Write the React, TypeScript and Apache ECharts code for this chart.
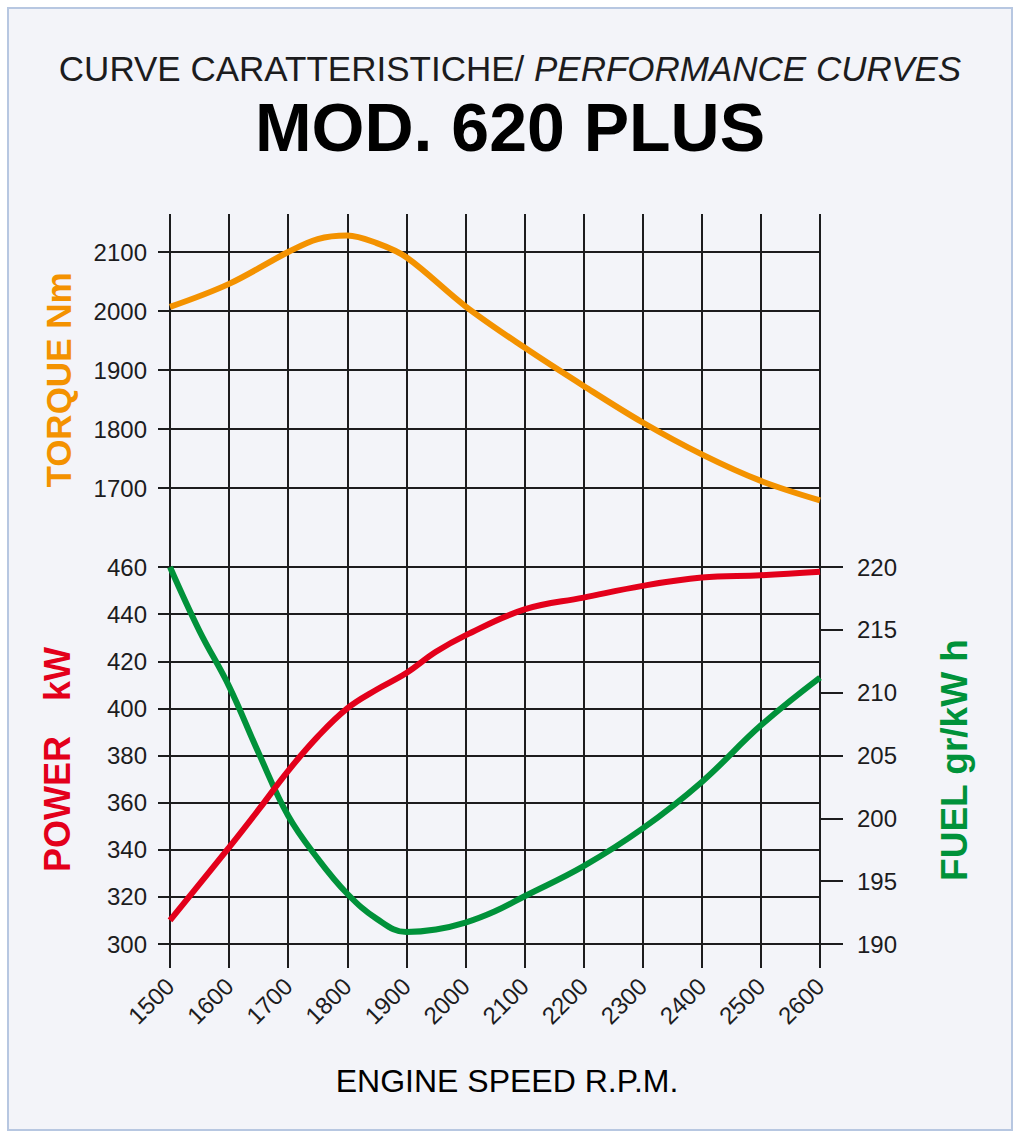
import React, { useEffect, useRef } from "react";
import * as echarts from "echarts";

// Engine speed range and tick labels
const rpmTicks = [1500, 1600, 1700, 1800, 1900, 2000, 2100, 2200, 2300, 2400, 2500, 2600];

// Torque curve (Nm)
const torqueRpm = [1500, 1600, 1700, 1750, 1800, 1850, 1900, 2000, 2100, 2200, 2300, 2400, 2500, 2600];
const torqueNm = [2007, 2046, 2100, 2122, 2128, 2115, 2091, 2008, 1938, 1873, 1811, 1757, 1712, 1679];

// Power curve (kW)
const powerRpm = [1500, 1600, 1650, 1700, 1750, 1800, 1850, 1900, 1950, 2000, 2100, 2200, 2300, 2400, 2500, 2600];
const powerKw = [310, 341, 357, 373.5, 388, 400, 408, 415, 424, 431, 442, 447, 452, 455.5, 456.5, 458];

// Specific fuel consumption (gr/kW h)
const fuelRpm = [1500, 1550, 1600, 1650, 1700, 1750, 1800, 1850, 1900, 1950, 2000, 2050, 2100, 2200, 2300, 2400, 2500, 2600];
const fuelGkwh = [220, 214.9, 210.5, 205.2, 200.2, 196.8, 194, 192, 190.95, 191.15, 191.7, 192.6, 193.8, 196.2, 199.2, 202.9, 207.4, 211.2];

const FONT = "'Liberation Sans', Arial, Helvetica, sans-serif";
const INK = "#1c1c1e";
const ORANGE = "#f39200";
const RED = "#e3001b";
const GREEN = "#00923a";

const zip = (xs: number[], ys: number[]) => xs.map((x, i) => [x, ys[i]]);
const plain = (v: number) => String(v);

export default function App() {
  const ref = useRef<HTMLDivElement>(null);

  useEffect(() => {
    if (!ref.current) return;
    const chart = echarts.init(ref.current, undefined, { renderer: "svg" });

    const gridLine = { lineStyle: { color: INK, width: 2 } };
    const xMin = rpmTicks[0];
    const xMax = rpmTicks[rpmTicks.length - 1];
    const plotLeft = 170;
    const plotWidth = 650;

    chart.setOption({
      animation: false,
      backgroundColor: "transparent",
      textStyle: { fontFamily: FONT },
      grid: [
        { left: plotLeft, top: 214, width: plotWidth, height: 730 },
        { left: plotLeft, top: 252, width: plotWidth, height: 236 },
        { left: plotLeft, top: 567, width: plotWidth, height: 377 },
      ],
      xAxis: [
        {
          gridIndex: 0,
          type: "value",
          min: xMin,
          max: xMax,
          interval: 100,
          axisLine: { show: true, lineStyle: { color: INK, width: 2 } },
          axisTick: { show: true, length: 24, lineStyle: { color: INK, width: 2 } },
          splitLine: { show: true, ...gridLine },
          axisLabel: {
            rotate: 45,
            margin: 38,
            fontSize: 24,
            color: INK,
            fontFamily: FONT,
            formatter: plain,
          },
        },
        { gridIndex: 1, type: "value", min: xMin, max: xMax, show: false },
        { gridIndex: 2, type: "value", min: xMin, max: xMax, show: false },
      ],
      yAxis: [
        { gridIndex: 0, type: "value", show: false },
        {
          gridIndex: 1,
          type: "value",
          min: 1700,
          max: 2100,
          interval: 100,
          axisLine: { show: false },
          axisTick: { show: true, length: 12, lineStyle: { color: INK, width: 2 } },
          splitLine: { show: true, ...gridLine },
          axisLabel: { margin: 23, fontSize: 24, color: INK, fontFamily: FONT, formatter: plain },
        },
        {
          gridIndex: 2,
          type: "value",
          position: "left",
          min: 300,
          max: 460,
          interval: 20,
          axisLine: { show: false },
          axisTick: { show: true, length: 12, lineStyle: { color: INK, width: 2 } },
          splitLine: { show: true, ...gridLine },
          axisLabel: { margin: 23, fontSize: 24, color: INK, fontFamily: FONT, formatter: plain },
        },
        {
          gridIndex: 2,
          type: "value",
          position: "right",
          min: 190,
          max: 220,
          interval: 5,
          axisLine: { show: false },
          axisTick: { show: true, length: 23, lineStyle: { color: INK, width: 2 } },
          splitLine: { show: false },
          axisLabel: { margin: 37, fontSize: 24, color: INK, fontFamily: FONT, formatter: plain },
        },
      ],
      series: [
        {
          name: "Torque",
          type: "line",
          xAxisIndex: 1,
          yAxisIndex: 1,
          data: zip(torqueRpm, torqueNm),
          smooth: 0.35,
          clip: false,
          symbol: "none",
          lineStyle: { color: ORANGE, width: 6 },
          z: 3,
        },
        {
          name: "Fuel",
          type: "line",
          xAxisIndex: 2,
          yAxisIndex: 3,
          data: zip(fuelRpm, fuelGkwh),
          smooth: 0.4,
          clip: false,
          symbol: "none",
          lineStyle: { color: GREEN, width: 6 },
          z: 3,
        },
        {
          name: "Power",
          type: "line",
          xAxisIndex: 2,
          yAxisIndex: 2,
          data: zip(powerRpm, powerKw),
          smooth: 0.4,
          clip: false,
          symbol: "none",
          lineStyle: { color: RED, width: 6 },
          z: 4,
        },
      ],
      graphic: [
        {
          type: "text",
          x: 510,
          y: 68,
          style: {
            text: "{n|CURVE CARATTERISTICHE/ }{i|PERFORMANCE CURVES}",
            align: "center",
            verticalAlign: "middle",
            fill: INK,
            rich: {
              n: { fontSize: 35, fontFamily: FONT, fontStyle: "normal", fill: INK, color: INK },
              i: { fontSize: 35, fontFamily: FONT, fontStyle: "italic", fill: INK, color: INK },
            },
          },
        },
        {
          type: "text",
          x: 510,
          y: 127,
          style: {
            text: "MOD. 620 PLUS",
            align: "center",
            verticalAlign: "middle",
            font: `bold 68px ${FONT}`,
            fill: "#000",
          },
        },
        {
          type: "text",
          x: 507,
          y: 1081,
          style: {
            text: "ENGINE SPEED R.P.M.",
            align: "center",
            verticalAlign: "middle",
            font: `32px ${FONT}`,
            fill: "#000",
          },
        },
        {
          type: "text",
          x: 58,
          y: 380,
          rotation: Math.PI / 2,
          style: {
            text: "TORQUE Nm",
            align: "center",
            verticalAlign: "middle",
            font: `bold 35px ${FONT}`,
            fill: ORANGE,
          },
        },
        {
          type: "text",
          x: 57,
          y: 804,
          rotation: Math.PI / 2,
          style: {
            text: "POWER",
            align: "center",
            verticalAlign: "middle",
            font: `bold 36px ${FONT}`,
            fill: RED,
          },
        },
        {
          type: "text",
          x: 57,
          y: 674,
          rotation: Math.PI / 2,
          style: {
            text: "kW",
            align: "center",
            verticalAlign: "middle",
            font: `bold 36px ${FONT}`,
            fill: RED,
          },
        },
        {
          type: "text",
          x: 954,
          y: 760,
          rotation: Math.PI / 2,
          style: {
            text: "FUEL gr/kW h",
            align: "center",
            verticalAlign: "middle",
            font: `bold 37px ${FONT}`,
            fill: GREEN,
          },
        },
      ],
    });

    return () => chart.dispose();
  }, []);

  return (
    <div style={{ position: "absolute", left: 0, top: 0, width: 1020, height: 1138, background: "#ffffff" }}>
      <div
        style={{
          position: "absolute",
          left: 7,
          top: 7,
          width: 1006,
          height: 1124,
          boxSizing: "border-box",
          border: "2px solid #b7c7e1",
          background: "#f3f4f9",
        }}
      />
      <div ref={ref} style={{ position: "absolute", left: 0, top: 0, width: 1020, height: 1138 }} />
    </div>
  );
}
